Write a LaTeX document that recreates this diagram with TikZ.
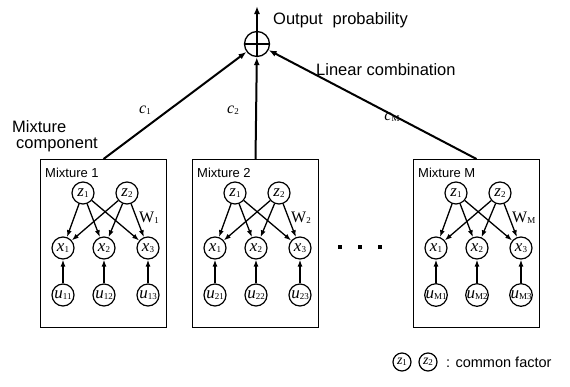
\documentclass[tikz,border=0pt]{standalone}
\usepackage{fontspec}
\setmainfont{Liberation Sans}
\newfontfamily\serif{Liberation Serif}
\usetikzlibrary{arrows.meta}
% italic variable with a small upright index set on the baseline
\newcommand\vlab[2]{{\serif\itshape #1}\raisebox{-0.6pt}{\serif\fontsize{9}{9}\selectfont #2}}
\begin{document}
\begin{tikzpicture}[x=1pt,y=-1pt,
  var/.style={circle,draw,line width=1.2pt,minimum size=22pt,inner sep=0pt,
              font=\fontsize{17}{17}\selectfont},
  mixbox/.style={draw,line width=1pt,anchor=north west,inner sep=0pt,
                 minimum width=126pt,minimum height=168pt},
  link/.style={-{Latex[length=7pt,width=5pt]},line width=1.3pt},
  feed/.style={-{Latex[length=8pt,width=6pt]},line width=2pt},
  lbl/.style={font=\fontsize{16.5}{16}\selectfont,anchor=west,inner sep=0pt},
  coef/.style={font=\fontsize{16}{16}\selectfont,inner sep=0pt}]
\useasboundingbox (0,0) rectangle (570,386);

% summation node with outgoing arrow
\node[circle,draw,line width=1.3pt,minimum size=25pt,inner sep=0pt] (sum) at (257,44) {};
\draw[line width=1.1pt] (sum.north) -- (sum.south) (sum.west) -- (sum.east);
\coordinate (out) at (257,6);
\draw[feed] (sum) -- (out);
\node[lbl] (outlbl) at (273,20) {Output\hspace{0.6em}probability};
\node[lbl] (lincomb) at (316,70) {Linear combination};
\node[lbl,align=left,anchor=north west] (mixlbl) at (12,120) {Mixture\\\hspace{4pt}component};

% the mixture components
\foreach \L/\n in {40/1, 192/2, 413/M} {
  \node[mixbox] (box\n) at (\L,159) {};
  \node[anchor=west,inner sep=0pt,font=\fontsize{13}{13}\selectfont] (title\n) at (\L+5,173) {Mixture \n};
  \node[var] (za\n) at (\L+43,193) {\vlab{z}{1}};
  \node[var] (zb\n) at (\L+87,193) {\vlab{z}{2}};
  \node[var] (xa\n) at (\L+23,248) {\vlab{x}{1}};
  \node[var] (xb\n) at (\L+64,248) {\vlab{x}{2}};
  \node[var] (xc\n) at (\L+108,248) {\vlab{x}{3}};
  \node[var] (ua\n) at (\L+23,295) {\vlab{u}{\n1}};
  \node[var] (ub\n) at (\L+64,295) {\vlab{u}{\n2}};
  \node[var] (uc\n) at (\L+108,295) {\vlab{u}{\n3}};
  \node[anchor=west,inner sep=0pt,font=\fontsize{16}{16}\selectfont] (w\n) at (\L+99,218)
    {{\serif W}\raisebox{-0.6pt}{\serif\fontsize{9}{9}\selectfont \n}};
  \foreach \s in {za,zb} \foreach \t in {xa,xb,xc} \draw[link] (\s\n) -- (\t\n);
  \draw[link] (ua\n) -- (xa\n);
  \draw[link] (ub\n) -- (xb\n);
  \draw[link] (uc\n) -- (xc\n);
}

% weighted links into the sum
\draw[feed] (box1.north) -- (sum);
\draw[feed] (box2.north) -- (sum);
\draw[feed] (boxM.north) -- (sum);
\node[coef] (c1) at (145,110) {\vlab{c}{1}};
\node[coef] (c2) at (233,110) {\vlab{c}{2}};
\node[coef] (cM) at (392,117) {\vlab{c}{M}};

% ellipsis between components
\foreach \i/\x in {1/340, 2/360, 3/380}
  \node[fill,rectangle,minimum size=3.5pt,inner sep=0pt] (dot\i) at (\x,247) {};

% legend
\node[var,minimum size=18pt,font=\fontsize{14}{14}\selectfont] (lza) at (402,362) {\vlab{z}{1}};
\node[var,minimum size=18pt,font=\fontsize{14}{14}\selectfont] (lzb) at (428,362) {\vlab{z}{2}};
\node[anchor=west,inner sep=0pt,font=\fontsize{14.5}{15}\selectfont] (legend) at (446,362) {: common factor};
\end{tikzpicture}
\end{document}
